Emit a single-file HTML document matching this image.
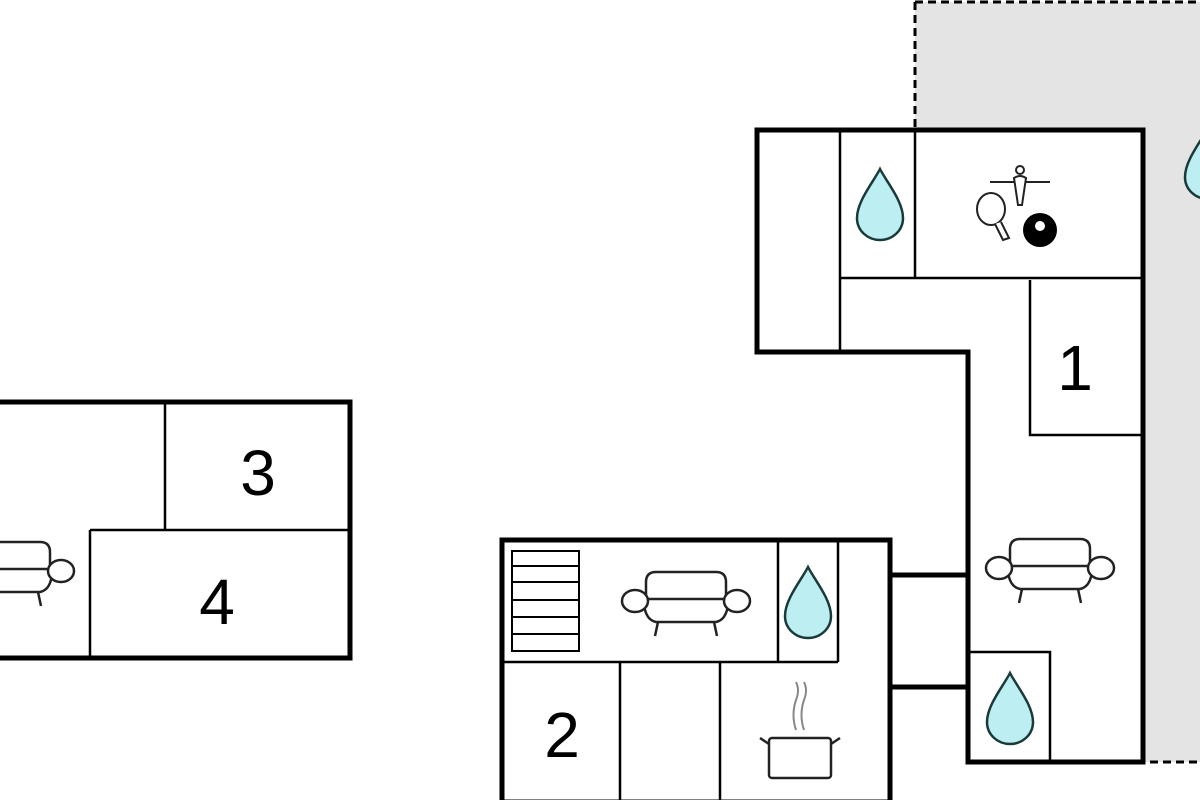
<!DOCTYPE html>
<html><head><meta charset="utf-8"><style>
html,body{margin:0;padding:0;background:#fff;width:1200px;height:800px;overflow:hidden}
svg{display:block}
text{font-family:"Liberation Sans",sans-serif;font-size:64px;fill:#000}
</style></head><body>
<svg width="1200" height="800" viewBox="0 0 1200 800" xmlns="http://www.w3.org/2000/svg">
<defs>
<g id="sofa" fill="#fff" stroke="#222" stroke-width="2.5">
<path d="M-40,8 L-40,-19 Q-40,-29 -30,-29 L30,-29 Q40,-29 40,-19 L40,8"/>
<path d="M-42,4 Q-40,19 -30,21 L30,21 Q40,19 42,4"/>
<line x1="-38" y1="-2" x2="38" y2="-2"/>
<ellipse cx="-51" cy="0" rx="13" ry="11"/>
<ellipse cx="51" cy="0" rx="13" ry="11"/>
<line x1="-28" y1="21" x2="-31" y2="35"/>
<line x1="28" y1="21" x2="31" y2="35"/>
</g>
<path id="drop" d="M0,-37 C6,-25 23,-5 23,12 C23,25 12,34 0,34 C-12,34 -23,25 -23,12 C-23,-5 -6,-25 0,-37 Z" fill="#bdeef2" stroke="#1a3a3a" stroke-width="2.5"/>
</defs>
<!-- gray exterior -->
<rect x="915" y="2" width="290" height="130" fill="#e4e4e4"/>
<rect x="1140" y="120" width="65" height="642" fill="#e4e4e4"/>
<line x1="915" y1="2" x2="1200" y2="2" stroke="#000" stroke-width="3" stroke-dasharray="8,5"/>
<line x1="915" y1="2" x2="915" y2="130" stroke="#000" stroke-width="3" stroke-dasharray="8,5"/>
<line x1="1150" y1="762" x2="1200" y2="762" stroke="#000" stroke-width="3" stroke-dasharray="8,5"/>
<use href="#drop" x="1208" y="165"/>
<!-- right building -->
<path d="M757,130 L1143,130 L1143,762 L968,762 L968,352 L757,352 Z" fill="#fff" stroke="#000" stroke-width="5"/>
<g stroke="#000" stroke-width="2.5" fill="none">
<line x1="840" y1="130" x2="840" y2="352"/>
<line x1="915" y1="130" x2="915" y2="278"/>
<line x1="840" y1="278" x2="1143" y2="278"/>
<path d="M1030,280 L1030,435 L1143,435"/>
<path d="M968,652 L1050,652 L1050,762"/>
</g>
<use href="#drop" x="880" y="206"/>
<use href="#drop" x="1010" y="710"/>
<use href="#sofa" x="1050" y="568"/>
<text x="1075" y="390" text-anchor="middle">1</text>
<!-- game icon -->
<g stroke="#222" stroke-width="2" fill="#fff">
<line x1="990" y1="182" x2="1050" y2="182"/>
<circle cx="1020" cy="170" r="4"/>
<path d="M1014,178 Q1020,174 1026,178 L1022,205 L1018,205 Z"/>
<ellipse cx="991" cy="209" rx="14" ry="16"/>
<path d="M995,224 L1003,240 L1009,238 L1001,222"/>
</g>
<circle cx="1040" cy="230" r="17" fill="#000"/>
<circle cx="1040" cy="226" r="5" fill="#fff"/>
<!-- connectors -->
<g stroke="#000" stroke-width="5">
<line x1="890" y1="575" x2="968" y2="575"/>
<line x1="890" y1="687" x2="968" y2="687"/>
</g>
<!-- lower building -->
<rect x="502" y="540" width="388" height="262" fill="#fff" stroke="#000" stroke-width="5"/>
<g stroke="#000" stroke-width="2.5" fill="none">
<line x1="502" y1="662" x2="838" y2="662"/>
<line x1="778" y1="540" x2="778" y2="662"/>
<line x1="838" y1="540" x2="838" y2="662"/>
<line x1="620" y1="662" x2="620" y2="800"/>
<line x1="720" y1="662" x2="720" y2="800"/>
<rect x="512" y="551" width="67" height="100" stroke-width="2"/>
<line x1="512" y1="566" x2="579" y2="566" stroke-width="2"/>
<line x1="512" y1="582" x2="579" y2="582" stroke-width="2"/>
<line x1="512" y1="600" x2="579" y2="600" stroke-width="2"/>
<line x1="512" y1="617" x2="579" y2="617" stroke-width="2"/>
<line x1="512" y1="634" x2="579" y2="634" stroke-width="2"/>
</g>
<use href="#sofa" x="686" y="601"/>
<use href="#drop" x="808" y="604"/>
<text x="562" y="757" text-anchor="middle">2</text>
<!-- pot -->
<g stroke="#222" stroke-width="2.5" fill="#fff">
<rect x="769" y="738" width="62" height="40" rx="3"/>
<path d="M769,744 L760,738 M831,744 L840,738"/>
</g>
<g stroke="#888" stroke-width="2" fill="none">
<path d="M796,730 Q791,715 796,700 Q800,690 796,682"/>
<path d="M804,730 Q799,715 804,700 Q808,690 804,682"/>
</g>
<!-- left building -->
<path d="M-10,402 L350,402 L350,658 L-10,658" fill="#fff" stroke="#000" stroke-width="5"/>
<g stroke="#000" stroke-width="2.5" fill="none">
<line x1="165" y1="402" x2="165" y2="530"/>
<line x1="90" y1="530" x2="350" y2="530"/>
<line x1="90" y1="530" x2="90" y2="658"/>
</g>
<use href="#sofa" x="10" y="571"/>
<text x="258" y="495" text-anchor="middle">3</text>
<text x="217" y="624" text-anchor="middle">4</text>
</svg>
</body></html>
